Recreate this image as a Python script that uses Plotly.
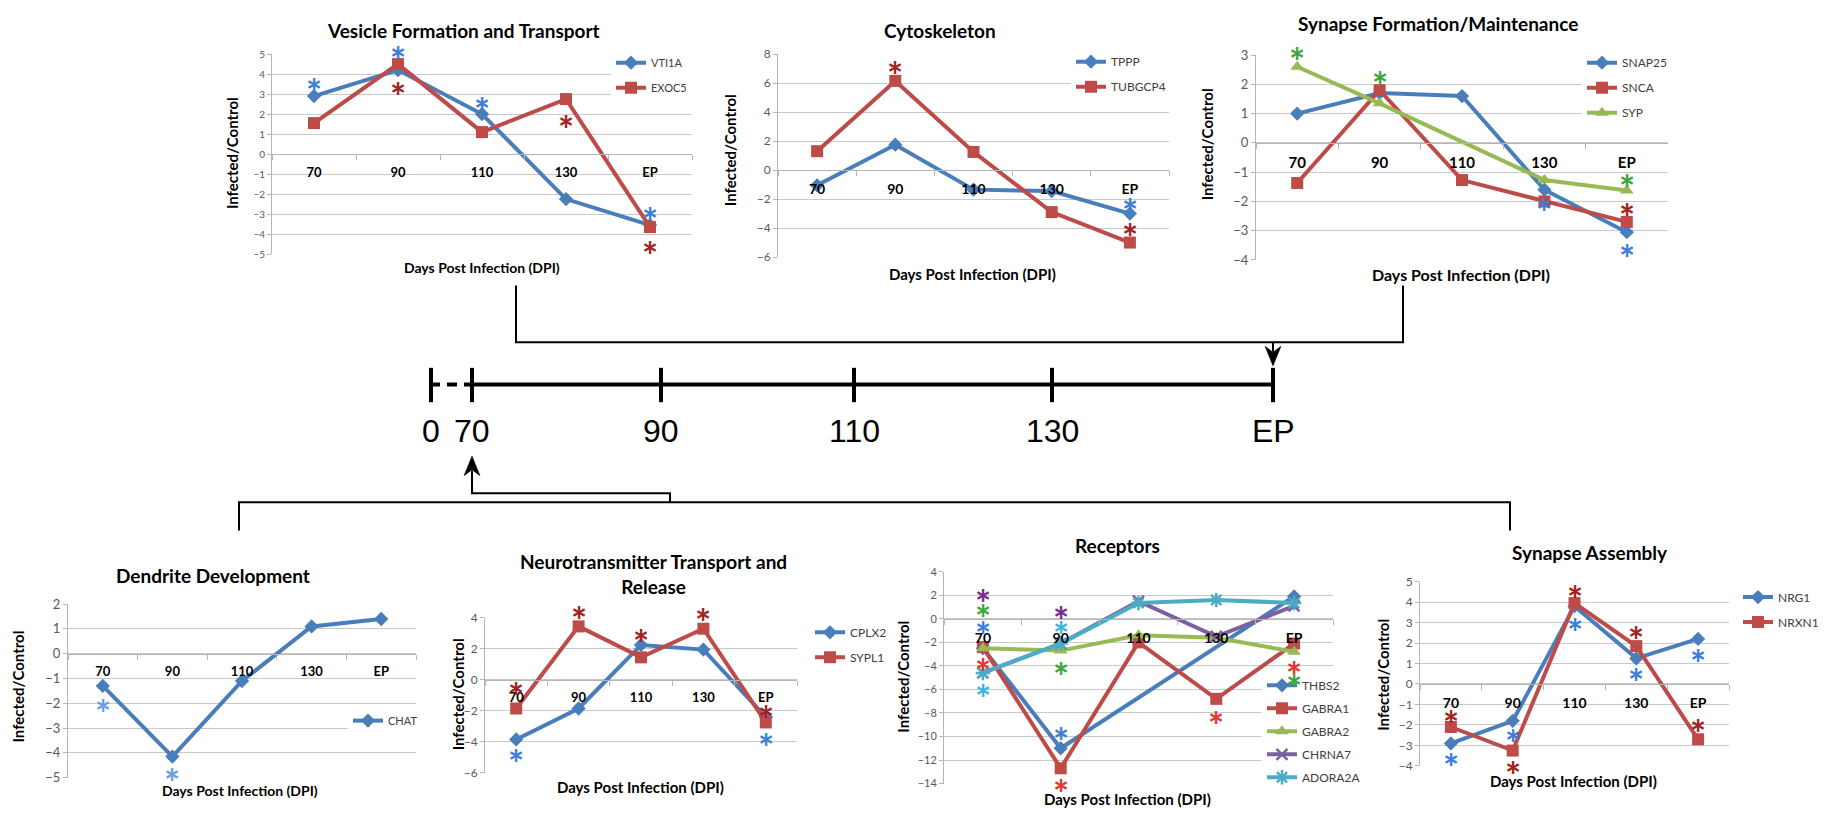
import plotly.graph_objects as go

W, H = 1826, 820
FONT = "Lato"
CATS = ["70", "90", "110", "130", "EP"]

# ---------------- data ----------------
# Vesicle Formation and Transport
VTI1A = [2.9, 4.2, 2.0, -2.25, -3.55]
EXOC5 = [1.55, 4.5, 1.1, 2.75, -3.65]
# Cytoskeleton
TPPP = [-1.05, 1.75, -1.35, -1.45, -3.0]
TUBGCP4 = [1.3, 6.15, 1.25, -2.9, -5.0]
# Synapse Formation/Maintenance
SNAP25 = [1.0, 1.7, 1.6, -1.6, -3.05]
SNCA = [-1.37, 1.8, -1.27, -2.0, -2.7]
SYP = [2.6, 1.35, None, -1.27, -1.63]
# Dendrite Development
CHAT = [-1.3, -4.15, -1.1, 1.1, 1.4]
# Neurotransmitter Transport and Release
CPLX2 = [-3.85, -1.85, 2.25, 1.95, -2.4]
SYPL1 = [-1.85, 3.45, 1.45, 3.3, -2.75]
# Receptors
THBS2 = [-2.5, -11.0, None, None, 1.9]
GABRA1 = [-2.4, -12.7, -2.0, -6.8, -2.1]
GABRA2 = [-2.5, -2.7, -1.4, -1.6, -2.8]
CHRNA7 = [-4.6, -2.1, 1.5, -1.5, 1.1]
ADORA2A = [-4.6, -2.1, 1.35, 1.6, 1.35]
# Synapse Assembly
NRG1 = [-2.9, -1.8, 3.8, 1.25, 2.2]
NRXN1 = [-2.1, -3.25, 3.95, 1.85, -2.7]

# significance asterisks: (category, value, colour key)
STARS1 = [("70", 3.6, "b"), ("90", 5.2, "b"), ("90", 3.4, "r"), ("110", 2.65, "b"),
          ("130", 1.75, "r"), ("EP", -2.85, "b"), ("EP", -4.55, "r")]
STARS2 = [("90", 7.2, "r"), ("EP", -2.25, "b"), ("EP", -3.95, "r")]
STARS3 = [("70", 3.13, "g"), ("90", 2.3, "g"), ("130", -2.05, "b"), ("EP", -1.2, "g"),
          ("EP", -2.2, "r"), ("EP", -3.6, "b")]
STARS4 = [("70", -2.0, "lb"), ("90", -4.8, "lb")]
STARS5 = [("70", -0.45, "r"), ("90", 4.5, "r"), ("110", 3.0, "r"), ("130", 4.35, "r"),
          ("EP", -1.9, "r"), ("70", -4.75, "b"), ("EP", -3.7, "b")]
STARS6 = [("70", 2.15, "p"), ("70", 0.85, "g"), ("70", -0.55, "b"), ("70", -3.75, "R"),
          ("70", -5.9, "c"), ("90", 0.75, "p"), ("90", -0.55, "c"), ("90", -4.05, "g"),
          ("90", -9.6, "b"), ("90", -14.0, "R"), ("130", -8.2, "R"), ("EP", -4.0, "R"),
          ("EP", -5.1, "g")]
STARS7 = [("70", -1.5, "r"), ("70", -3.6, "b"), ("90", -2.4, "b"), ("90", -4.0, "r"),
          ("110", 4.6, "r"), ("110", 3.0, "b"), ("130", 2.6, "r"), ("130", 0.55, "b"),
          ("EP", 1.5, "b"), ("EP", -1.95, "r")]

TIMELINE_LABELS = ["0", "70", "90", "110", "130", "EP"]

# ---------------- styles ----------------
BLUE, RED, GREEN, PURPLE, CYAN = "#4A7EBB", "#BE4B48", "#98B954", "#7D60A0", "#4BACC6"
STAR_COL = {"b": "#3D7DD8", "r": "#A3221F", "g": "#3DA63A", "p": "#7B2B8C",
            "c": "#3CB4DA", "R": "#E3372E", "lb": "#6B9FE3"}
GRID = "#C9C9C9"
AXC = "#B5B5B5"


def xp(x):
    return x / W


def yp(y):
    return 1 - y / H


PANELS = [
    dict(title="Vesicle Formation and Transport", tpos=(463, 23), dom=(272, 692, 47, 251),
         yr=(-5, 5), dt=1, tfs=10, cfs=13, ytpos=(232, 148), xtpos=(482, 265), xtfs=14,
         series=[("VTI1A", VTI1A, BLUE, "diamond", 11), ("EXOC5", EXOC5, RED, "square", 12)],
         leg=(611, 41, 11, 6), stars=STARS1),
    dict(title="Cytoskeleton", tpos=(940, 23), dom=(778, 1169, 47, 254),
         yr=(-6, 8), dt=2, tfs=12, cfs=14, ytpos=(730, 145), xtpos=(972, 271), xtfs=15,
         series=[("TPPP", TPPP, BLUE, "diamond", 11), ("TUBGCP4", TUBGCP4, RED, "square", 12)],
         leg=(1071, 40, 12, 6), stars=STARS2),
    dict(title="Synapse Formation/Maintenance", tpos=(1438, 16), dom=(1256, 1668, 48, 257),
         yr=(-4, 3), dt=1, tfs=13, cfs=15, ytpos=(1207, 139), xtpos=(1461, 272), xtfs=16,
         series=[("SNAP25", SNAP25, BLUE, "diamond", 11), ("SNCA", SNCA, RED, "square", 12),
                 ("SYP", SYP, GREEN, "triangle-up", 12)],
         leg=(1582, 41, 12, 6), stars=STARS3),
    dict(title="Dendrite Development", tpos=(213, 579), dom=(68, 416, 608, 785),
         yr=(-5, 2), dt=1, tfs=13, cfs=13, ytpos=(18, 692), xtpos=(240, 798), xtfs=14,
         series=[("CHAT", CHAT, BLUE, "diamond", 11)],
         leg=(348, 712, 11, 6), stars=STARS4),
    dict(title="Neurotransmitter Transport and<br>Release", tpos=(653, 577), dom=(485, 797, 622, 780),
         yr=(-6, 4), dt=2, tfs=12, cfs=13, ytpos=(458, 700), xtpos=(640, 795), xtfs=15,
         series=[("CPLX2", CPLX2, BLUE, "diamond", 11), ("SYPL1", SYPL1, RED, "square", 12)],
         leg=(810, 622, 12, 6), stars=STARS5),
    dict(title="Receptors", tpos=(1117, 548), dom=(944, 1333, 575, 791),
         yr=(-14, 4), dt=2, tfs=11, cfs=14, ytpos=(903, 682), xtpos=(1127, 807), xtfs=15,
         series=[("THBS2", THBS2, BLUE, "diamond", 11), ("GABRA1", GABRA1, RED, "square", 12),
                 ("GABRA2", GABRA2, GREEN, "triangle-up", 12), ("CHRNA7", CHRNA7, PURPLE, "x-thin-open", 11),
                 ("ADORA2A", ADORA2A, CYAN, "asterisk-open", 12)],
         leg=(1262, 676, 12, 4), stars=STARS6),
    dict(title="Synapse Assembly", tpos=(1590, 555), dom=(1420, 1729, 585, 773),
         yr=(-4, 5), dt=1, tfs=12, cfs=14, ytpos=(1383, 680), xtpos=(1573, 788), xtfs=15,
         series=[("NRG1", NRG1, BLUE, "diamond", 11), ("NRXN1", NRXN1, RED, "square", 12)],
         leg=(1738, 586, 12, 6), stars=STARS7),
]

fig = go.Figure()
layout = dict(width=W, height=H, margin=dict(l=0, r=0, t=0, b=0), autosize=False,
              paper_bgcolor="white", plot_bgcolor="white", font=dict(family=FONT))
annotations = []
shapes = []
STAR_SIZE = 38

for i, p in enumerate(PANELS, start=1):
    sfx = "" if i == 1 else str(i)
    xref, yref = "x" + sfx, "y" + sfx
    x0, x1, ytop, ybot = p["dom"]
    ymin, ymax = p["yr"]
    dy0, dy1 = yp(ybot), yp(ytop)

    def to_paper(v, ymin=ymin, ymax=ymax, dy0=dy0, dy1=dy1):
        # linear y-axis mapping (lets asterisks sit above/below the axis range)
        return dy0 + (v - ymin) / (ymax - ymin) * (dy1 - dy0)

    zero_pos = to_paper(0)
    leg_id = "legend" + sfx
    for name, vals, col, sym, msize in p["series"]:
        open_sym = sym.endswith("open")
        fig.add_trace(go.Scatter(
            x=CATS, y=vals, name=name, mode="lines+markers", connectgaps=True,
            xaxis=xref, yaxis=yref, legend=leg_id, legendgroup=name + sfx,
            line=dict(color=col, width=4),
            marker=dict(symbol=sym, size=msize, color=col,
                        line=dict(color=col, width=2.5 if open_sym else 0)),
            cliponaxis=False,
        ))
    layout["xaxis" + sfx] = dict(
        domain=[xp(x0), xp(x1)], type="category", categoryorder="array", categoryarray=CATS,
        range=[-0.5, 4.5], anchor="free", position=zero_pos, showgrid=False, zeroline=False,
        showline=True, linecolor=AXC, linewidth=1, ticks="outside", tickson="boundaries",
        ticklen=5, tickcolor=AXC, ticklabelstandoff=6,
        tickfont=dict(family=FONT, size=p["cfs"], color="black", weight=700), fixedrange=True)
    layout["yaxis" + sfx] = dict(
        domain=[dy0, dy1], range=[ymin, ymax], dtick=p["dt"], tick0=0, anchor=xref,
        showgrid=True, gridcolor=GRID, gridwidth=1, zeroline=False, showline=True,
        linecolor=AXC, ticks="outside", ticklen=4, tickcolor=AXC,
        tickfont=dict(family=FONT, size=p["tfs"], color="#595959"), fixedrange=True)
    lx, ly, lfs, lgap = p["leg"]
    layout[leg_id] = dict(x=xp(lx), y=yp(ly), xanchor="left", yanchor="top", bgcolor="white",
                          font=dict(family=FONT, size=lfs, color="#404040"), itemwidth=30,
                          traceorder="grouped", tracegroupgap=lgap, borderwidth=0)
    # title
    annotations.append(dict(text="<b>" + p["title"] + "</b>", x=xp(p["tpos"][0]), y=yp(p["tpos"][1]),
                            xref="paper", yref="paper", showarrow=False, xanchor="center",
                            yanchor="middle", font=dict(family=FONT, size=19, color="black")))
    annotations.append(dict(text="<b>Infected/Control</b>", x=xp(p["ytpos"][0]), y=yp(p["ytpos"][1]),
                            xref="paper", yref="paper", showarrow=False, textangle=-90,
                            xanchor="center", yanchor="middle",
                            font=dict(family=FONT, size=15, color="black")))
    annotations.append(dict(text="<b>Days Post Infection (DPI)</b>", x=xp(p["xtpos"][0]),
                            y=yp(p["xtpos"][1]), xref="paper", yref="paper", showarrow=False,
                            xanchor="center", yanchor="middle",
                            font=dict(family=FONT, size=p["xtfs"], color="black")))
    for cat, val, ck in p["stars"]:
        # category axes position annotations by category index
        annotations.append(dict(text="*", x=CATS.index(cat), y=to_paper(val), xref=xref, yref="paper",
                                showarrow=False, xanchor="center", yanchor="middle",
                                yshift=-0.25 * STAR_SIZE,
                                font=dict(family=FONT, size=STAR_SIZE, color=STAR_COL[ck],
                                          weight=700)))

# ---------------- timeline diagram ----------------
TL_X = [431, 472, 661, 854, 1052, 1273]
TL_Y = 384


def line(xa, ya, xb, yb, w=4):
    return dict(type="line", xref="paper", yref="paper", x0=xp(xa), y0=yp(ya), x1=xp(xb), y1=yp(yb),
                line=dict(color="black", width=w), layer="above")


def path(pts, fill=None, w=2):
    d = "M" + " L".join(f"{xp(a):.5f},{yp(b):.5f}" for a, b in pts)
    if fill:
        d += " Z"
    return dict(type="path", xref="paper", yref="paper", path=d,
                line=dict(color="black", width=w if not fill else 0.5),
                fillcolor=fill if fill else None, layer="above")


shapes.append(line(TL_X[1], TL_Y, TL_X[-1], TL_Y, 4))
shapes.append(line(TL_X[0], TL_Y, TL_X[0] + 9, TL_Y, 4))
shapes.append(line(TL_X[0] + 16, TL_Y, TL_X[0] + 26, TL_Y, 4))
shapes.append(line(TL_X[0] + 33, TL_Y, TL_X[1], TL_Y, 4))
for tx in TL_X:
    shapes.append(line(tx, 367, tx, 402, 4))
for tx, lab in zip(TL_X, TIMELINE_LABELS):
    annotations.append(dict(text=lab, x=xp(tx), y=yp(431), xref="paper", yref="paper",
                            showarrow=False, xanchor="center", yanchor="middle",
                            font=dict(family="Liberation Sans Narrow, Liberation Sans", size=32,
                                      color="black")))

# top bracket + arrow down to EP
shapes.append(path([(516, 283), (516, 341), (1403, 341), (1403, 283)], w=2))
shapes.append(line(1273, 341, 1273, 352, 2))
shapes.append(path([(1273, 365), (1265, 345), (1273, 351), (1281, 345)], fill="black"))
# bottom bracket + arrow up to 70
shapes.append(path([(239, 533), (239, 504), (1510, 504), (1510, 533)], w=2))
shapes.append(path([(670, 504), (670, 495), (472, 495), (472, 472)], w=2))
shapes.append(path([(472, 457), (464, 477), (472, 471), (480, 477)], fill="black"))

layout["annotations"] = annotations
layout["shapes"] = shapes
fig.update_layout(**layout)
fig.write_html("out.html")
